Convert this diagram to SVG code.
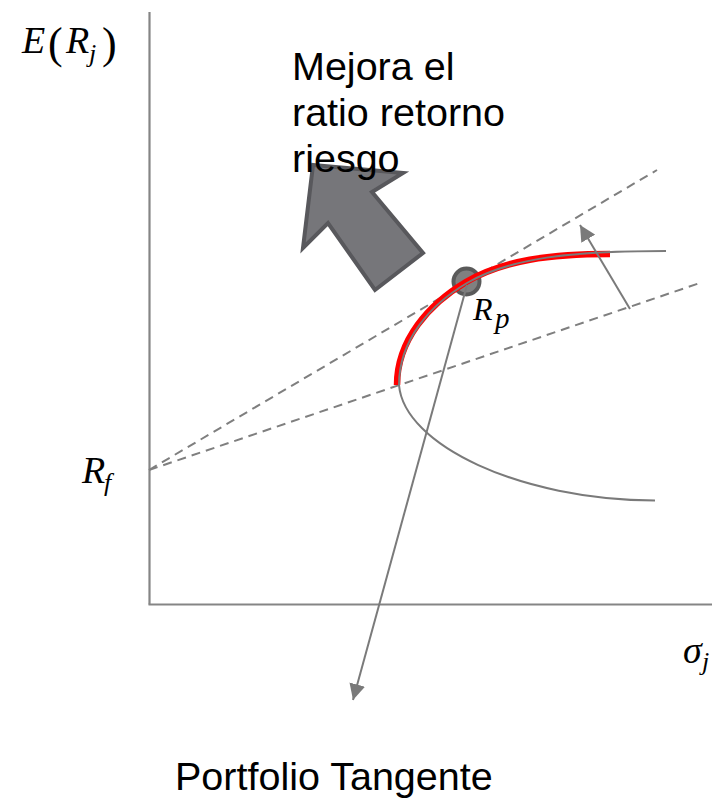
<svg xmlns="http://www.w3.org/2000/svg" width="715" height="798" viewBox="0 0 715 798">
<style>
.axis{stroke:#858585;stroke-width:2.2;fill:none}
.dash{stroke:#7f7f7f;stroke-width:2;stroke-dasharray:9,6;fill:none}
.curve{stroke:#7a7a7a;stroke-width:2;fill:none}
.red{stroke:#ff0000;stroke-width:6.5;fill:none}
.conn{stroke:#7a7a7a;stroke-width:2;fill:none}
.txt{font-family:"Liberation Sans",Arial,sans-serif;font-size:39.5px;fill:#000}
.math{font-family:"Liberation Serif","DejaVu Serif",serif;font-style:italic;fill:#000}
.paren{font-family:"Liberation Serif","DejaVu Serif",serif;fill:#000}
</style>
<defs>
<marker id="ah" viewBox="0 0 16 16" refX="16" refY="8" markerWidth="16" markerHeight="16" markerUnits="userSpaceOnUse" orient="auto">
<path d="M0,0 L16,8 L0,16 Z" fill="#7a7a7a"/>
</marker>
</defs>
<rect width="715" height="798" fill="#fff"/>
<g id="axes">
<line class="axis" x1="149.5" y1="12" x2="149.5" y2="604.5"/>
<line class="axis" x1="148.5" y1="604.5" x2="712" y2="604.5"/>
</g>
<g id="labels-math">
<text class="math" x="22" y="53" font-size="38">E</text>
<text class="paren" x="48" y="58" font-size="44">(</text>
<text class="math" x="66" y="53" font-size="38">R</text>
<text class="math" x="89" y="62" font-size="26">j</text>
<text class="paren" x="102" y="58" font-size="44">)</text>
<text class="math" x="82" y="483" font-size="38">R</text>
<text class="math" x="104" y="491" font-size="26">f</text>
<text class="math" x="473" y="320" font-size="32">R</text>
<text class="math" x="495" y="328" font-size="29">p</text>
<text class="math" x="683" y="663" font-size="38">σ</text>
<text class="math" x="702" y="670" font-size="26">j</text>
</g>
<g id="big-arrow">
<polygon points="313,165 403,173 372,192 423,253 375,290 328,223 303,248" fill="#76767a" stroke="#58585c" stroke-width="4" stroke-linejoin="miter"/>
</g>
<g id="text-mejora">
<text class="txt" x="292" y="79.5">Mejora el</text>
<text class="txt" x="292" y="125.5">ratio retorno</text>
<text class="txt" x="292" y="171.5">riesgo</text>
</g>
<g id="connectors">
<line class="dash" x1="149" y1="470" x2="657" y2="170"/>
<line class="dash" x1="149" y1="470" x2="700" y2="283"/>
</g>
<g id="Rp">
<circle cx="466.5" cy="281.5" r="13" fill="#808080" stroke="#5a5a5a" stroke-width="4"/>
</g>
<g id="frontier">
<path class="red" d="M397,385 C397,340 429,304 466,282 C504,260 550,254 610,254"/>
<path class="curve" d="M399,385 C399,340 430,305 467,283 C510,258 570,251 666,251"/>
<path class="curve" d="M399,385 C404,445 520,500 655,500.5"/>
</g>
<g id="arrows">
<line class="conn" x1="467" y1="285" x2="353" y2="700" marker-end="url(#ah)"/>
<line class="conn" x1="630" y1="309" x2="580" y2="225" marker-end="url(#ah)"/>
</g>
<g id="text-portfolio">
<text class="txt" x="175" y="789.5">Portfolio Tangente</text>
</g>
</svg>
